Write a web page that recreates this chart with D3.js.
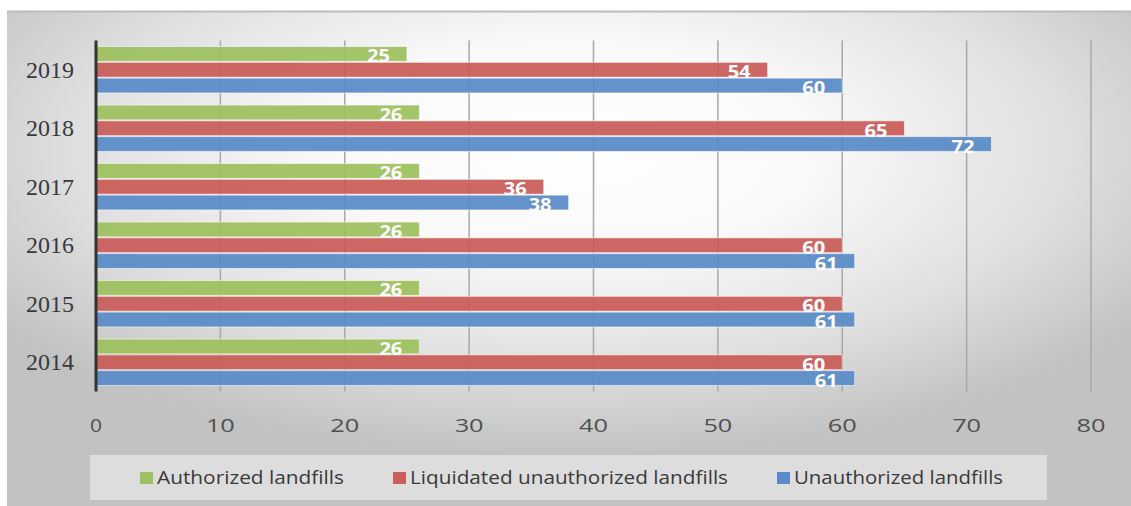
<!DOCTYPE html>
<html>
<head>
<meta charset="utf-8">
<script src="https://cdn.jsdelivr.net/npm/d3@7"></script>
<style>
  html, body { margin: 0; padding: 0; background: #ffffff; }
  svg { display: block; }
</style>
</head>
<body>
<div id="chart"></div>
<script>
// Landfill counts per year
const years = ["2019", "2018", "2017", "2016", "2015", "2014"];
const authorized = [25, 26, 26, 26, 26, 26];
const liquidated = [54, 65, 36, 60, 60, 60];
const unauthorized = [60, 72, 38, 61, 61, 61];
const seriesNames = ["Authorized landfills", "Liquidated unauthorized landfills", "Unauthorized landfills"];
const seriesColors = ["#9dc060", "#c95e5a", "#5a8bc8"];
const xTicks = [0, 10, 20, 30, 40, 50, 60, 70, 80];

const W = 1131, H = 506;
const plot = { left: 96, right: 1091, top: 40.5, bottom: 391.5 };
const sans = "'Open Sans', 'Noto Sans', sans-serif";

const svg = d3.select("#chart").append("svg")
  .attr("width", W).attr("height", H);

const defs = svg.append("defs");
const grad = defs.append("radialGradient")
  .attr("id", "bgGrad")
  .attr("cx", "0.5").attr("cy", "0.28").attr("r", "0.62");
[[0, "#ffffff"], [0.35, "#f9f9f9"], [0.7, "#e0e0e0"], [1, "#c2c2c2"]].forEach(([o, c]) =>
  grad.append("stop").attr("offset", o).attr("stop-color", c));

// chart panel
svg.append("rect")
  .attr("x", 7).attr("y", 11).attr("width", W - 7).attr("height", H - 11)
  .attr("fill", "url(#bgGrad)");
svg.append("line")
  .attr("x1", 7).attr("x2", W).attr("y1", 11.5).attr("y2", 11.5)
  .attr("stroke", "#bcbcbc").attr("stroke-width", 2);

const x = d3.scaleLinear().domain([0, 80]).range([plot.left, plot.right]);
const y = d3.scaleBand().domain(years).range([plot.top, plot.bottom])
  .paddingInner(0.19).paddingOuter(0.095);
const sub = d3.scaleBand().domain(d3.range(3)).range([0, y.bandwidth()]);

// vertical gridlines
svg.append("g").selectAll("line")
  .data(xTicks.filter(t => t > 0))
  .join("line")
  .attr("x1", d => x(d)).attr("x2", d => x(d))
  .attr("y1", plot.top).attr("y2", plot.bottom)
  .attr("stroke", "#a8a8a8").attr("stroke-width", 1.5);

// bars
const data = years.map((yr, i) => ({
  year: yr,
  values: [authorized[i], liquidated[i], unauthorized[i]]
}));

const groups = svg.append("g").selectAll("g")
  .data(data).join("g")
  .attr("transform", d => `translate(0,${y(d.year)})`);

groups.selectAll("rect")
  .data(d => d.values.map((v, k) => ({ v, k })))
  .join("rect")
  .attr("x", x(0))
  .attr("y", d => sub(d.k) + 0.5)
  .attr("width", d => x(d.v) - x(0))
  .attr("height", sub.bandwidth() - 1)
  .attr("fill", d => seriesColors[d.k])
  .attr("fill-opacity", 0.94)
  .attr("stroke", "rgba(255,255,255,0.55)")
  .attr("stroke-width", 1);

groups.selectAll("text")
  .data(d => d.values.map((v, k) => ({ v, k })))
  .join("text")
  .attr("x", d => x(d.v) - 17)
  .attr("y", d => sub(d.k) + sub.bandwidth() / 2 + 1.5)
  .attr("text-anchor", "end")
  .attr("dominant-baseline", "central")
  .attr("font-family", sans)
  .attr("font-weight", "bold")
  .attr("font-size", 18)
  .attr("fill", "#ffffff")
  .attr("textLength", 23)
  .attr("lengthAdjust", "spacingAndGlyphs")
  .text(d => d.v);

// category axis line
svg.append("line")
  .attr("x1", x(0)).attr("x2", x(0))
  .attr("y1", plot.top).attr("y2", plot.bottom)
  .attr("stroke", "#333333").attr("stroke-width", 3);

// year labels
svg.append("g").selectAll("text")
  .data(years).join("text")
  .attr("x", 74)
  .attr("y", d => y(d) + y.bandwidth() / 2)
  .attr("text-anchor", "end")
  .attr("dominant-baseline", "central")
  .attr("font-family", "'Liberation Serif', serif")
  .attr("font-size", 24)
  .attr("fill", "#3a3a3a")
  .text(d => d);

// value axis labels
svg.append("g").selectAll("text")
  .data(xTicks).join("text")
  .attr("x", d => x(d))
  .attr("y", 432)
  .attr("text-anchor", "middle")
  .attr("font-family", sans)
  .attr("font-size", 18)
  .attr("fill", "#505050")
  .attr("textLength", d => String(d).length > 1 ? 29 : 12)
  .attr("lengthAdjust", "spacingAndGlyphs")
  .text(d => d);

// legend
const legend = svg.append("g");
legend.append("rect")
  .attr("x", 90).attr("y", 455).attr("width", 957).attr("height", 45)
  .attr("fill", "#ffffff").attr("fill-opacity", 0.45);

const legendWidths = [187, 318, 209];
let lx = 140;
seriesNames.forEach((name, k) => {
  legend.append("rect")
    .attr("x", lx).attr("y", 472).attr("width", 13).attr("height", 12)
    .attr("fill", seriesColors[k]);
  legend.append("text")
    .attr("x", lx + 17).attr("y", 484)
    .attr("font-family", sans)
    .attr("font-size", 19)
    .attr("fill", "#3a3a3a")
    .attr("textLength", legendWidths[k])
    .attr("lengthAdjust", "spacingAndGlyphs")
    .text(name);
  lx += 17 + legendWidths[k] + 49;
});
</script>
</body>
</html>
